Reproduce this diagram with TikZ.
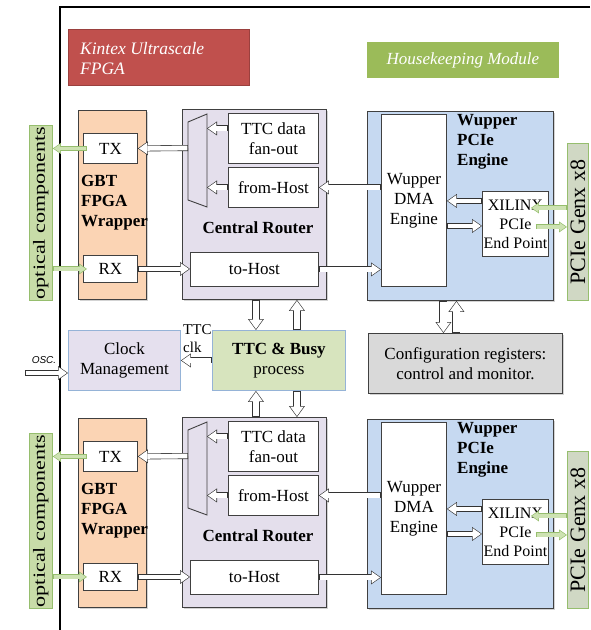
\documentclass[tikz,border=0pt]{standalone}
\usepackage{fontspec}
\setmainfont{Liberation Serif}
\setsansfont{Liberation Sans}
\usepackage{graphicx}
\usetikzlibrary{arrows.meta,shadows}
\definecolor{kintexred}{RGB}{192,80,77}
\definecolor{hkgreen}{RGB}{155,187,89}
\definecolor{gbtpeach}{RGB}{251,212,180}
\definecolor{routerlav}{RGB}{228,223,236}
\definecolor{wupblue}{RGB}{198,217,241}
\definecolor{optgreen}{RGB}{150,190,110}
\definecolor{optlight}{RGB}{205,226,178}
\definecolor{optfill}{RGB}{200,220,168}
\definecolor{pciefill}{RGB}{208,216,196}
\definecolor{clkfill}{RGB}{229,224,238}
\definecolor{clkborder}{RGB}{149,179,215}
\definecolor{ttcgreen}{RGB}{215,228,190}
\definecolor{cfggrey}{RGB}{217,217,217}
\newcommand\boxfont{\fontsize{17}{20}\selectfont}

\begin{document}
\begin{tikzpicture}[x=1pt,y=-1pt,font=\boxfont,
 blk/.style={draw=black!75,line width=0.9pt,anchor=north west,inner sep=0pt},
 whitebox/.style={blk,fill=white,align=center},
 bigbox/.style={blk,drop shadow={shadow xshift=1.5pt,shadow yshift=-1.5pt,opacity=0.35}},
 sidebox/.style={blk,draw=optgreen,fill=optfill,line width=0.8pt},
 boldtext/.style={font=\boxfont\bfseries,align=left,inner sep=0pt},
 hollow/.style={draw=black!80,line width=6pt,-{Triangle[length=10pt,width=14pt,line width=0pt]},
   postaction={draw=white,line width=4.8pt,shorten <=0.6pt,shorten >=1.05pt,-{Triangle[length=8.35pt,width=11.7pt,line width=0pt]}}},
 vhollow/.style={draw=black!80,line width=8pt,-{Triangle[length=11pt,width=16pt,line width=0pt]},
   postaction={draw=white,line width=6.8pt,shorten <=0.6pt,shorten >=1.02pt,-{Triangle[length=9.4pt,width=13.6pt,line width=0pt]}}},
 optarrow/.style={draw=optgreen,line width=5pt,-{Triangle[length=8pt,width=11pt,line width=0pt]},
   postaction={draw=optlight,line width=3.6pt,shorten <=0.7pt,shorten >=1.2pt,-{Triangle[length=6.2pt,width=8.5pt,line width=0pt]}}}]
\useasboundingbox (0,0) rectangle (590,630);
\draw[line width=2.5pt] (590,7) -- (60,7) -- (60,630);
\node[blk,fill=kintexred,draw=kintexred!80!black,minimum width=181pt,minimum height=56pt] (kintex) at (68,29) {};
\node[anchor=west,align=left,text=white,font=\fontsize{17.5}{20}\selectfont\itshape,inner sep=0pt] (kintexlabel) at (80,59) {Kintex Ultrascale\\FPGA};
\node[blk,fill=hkgreen,draw=hkgreen,text=white,font=\fontsize{17}{20}\selectfont\itshape,minimum width=191pt,minimum height=35pt] (hk) at (367,42) {Housekeeping Module};
% upper link
\begin{scope}
\node[sidebox,minimum width=23pt,minimum height=175pt] (optA) at (29,125) {}; \node[rotate=90] (opttextA) at (optA.center) {\scalebox{1.3}[1]{optical components}};
\node[bigbox,fill=gbtpeach,minimum width=68pt,minimum height=189pt] (gbtA) at (78,110) {}; \node[whitebox,minimum width=54pt,minimum height=30pt] (txA) at (83,133) {TX}; \node[whitebox,minimum width=54pt,minimum height=27pt] (rxA) at (83,255) {RX}; \node[boldtext,anchor=west] (gbtlabelA) at (81,203) {GBT\\FPGA\\Wrapper};
\node[bigbox,fill=routerlav,minimum width=144pt,minimum height=190pt] (routerA) at (182,109) {}; \node[whitebox,minimum width=90pt,minimum height=50pt] (fanA) at (228,113) {TTC data\\fan-out}; \node[whitebox,minimum width=90pt,minimum height=40pt] (fromA) at (228,167) {from-Host}; \node[whitebox,minimum width=128pt,minimum height=34pt] (tohostA) at (190,252) {to-Host}; \node[boldtext] (routerlabelA) at (258,228) {Central Router};
\draw[line width=0.9pt,draw=black!75] (188,122) -- (207,114) -- (207,207) -- (188,200) -- cycle; \coordinate (muxA) at (207,160); \coordinate (muxoutA) at (188,148);
\node[bigbox,fill=wupblue,minimum width=186pt,minimum height=189pt] (wupA) at (367,111) {}; \node[whitebox,minimum width=65pt,minimum height=172pt] (dmaA) at (381,114) {Wupper\\DMA\\Engine}; \node[whitebox,font=\fontsize{16}{19}\selectfont,minimum width=66pt,minimum height=65pt] (xilA) at (482,191) {XILINX\\PCIe\\End Point}; \node[boldtext,anchor=west] (wuplabelA) at (457,142) {Wupper\\PCIe\\Engine};
\node[sidebox,fill=pciefill,minimum width=21pt,minimum height=157pt] (pcieA) at (567,143) {}; \node[rotate=90,font=\fontsize{22}{26}\selectfont] (pcietextA) at (pcieA.center) {PCIe Genx x8};
\draw[optarrow] ([xshift=4pt]txA.west) -- (txA.west -| optA.east); \draw[optarrow] (rxA.west -| optA.east) -- ([xshift=4pt]rxA.west);
\draw[hollow] (muxoutA) -- (txA.east); \draw[hollow] ([yshift=10pt]fanA.west) -- ([yshift=10pt]fanA.west -| muxA); \draw[hollow] (fromA.west) -- (fromA.west -| muxA);
\draw[hollow] (rxA.east) -- (rxA.east -| tohostA.west); \draw[hollow] (fromA.east -| dmaA.west) -- (fromA.east); \draw[hollow] (tohostA.east) -- (tohostA.east -| dmaA.west);
\draw[hollow] ([yshift=23pt]xilA.west) -- ([yshift=23pt]xilA.west -| dmaA.east); \draw[hollow] ([yshift=-2pt]xilA.west -| dmaA.east) -- ([yshift=-2pt]xilA.west);
\draw[optarrow] ([yshift=16pt]xilA.east -| pcieA.west) -- ([xshift=-18pt,yshift=16pt]xilA.east); \draw[optarrow] ([xshift=-13pt,yshift=-3pt]xilA.east) -- ([yshift=-3pt]xilA.east -| pcieA.west);
\end{scope}
% lower link
\begin{scope}[shift={(0,308)}]
\node[sidebox,minimum width=23pt,minimum height=175pt] (optB) at (29,125) {}; \node[rotate=90] (opttextB) at (optB.center) {\scalebox{1.3}[1]{optical components}};
\node[bigbox,fill=gbtpeach,minimum width=68pt,minimum height=189pt] (gbtB) at (78,110) {}; \node[whitebox,minimum width=54pt,minimum height=30pt] (txB) at (83,133) {TX}; \node[whitebox,minimum width=54pt,minimum height=27pt] (rxB) at (83,255) {RX}; \node[boldtext,anchor=west] (gbtlabelB) at (81,203) {GBT\\FPGA\\Wrapper};
\node[bigbox,fill=routerlav,minimum width=144pt,minimum height=190pt] (routerB) at (182,109) {}; \node[whitebox,minimum width=90pt,minimum height=50pt] (fanB) at (228,113) {TTC data\\fan-out}; \node[whitebox,minimum width=90pt,minimum height=40pt] (fromB) at (228,167) {from-Host}; \node[whitebox,minimum width=128pt,minimum height=34pt] (tohostB) at (190,252) {to-Host}; \node[boldtext] (routerlabelB) at (258,228) {Central Router};
\draw[line width=0.9pt,draw=black!75] (188,122) -- (207,114) -- (207,207) -- (188,200) -- cycle; \coordinate (muxB) at (207,160); \coordinate (muxoutB) at (188,148);
\node[bigbox,fill=wupblue,minimum width=186pt,minimum height=189pt] (wupB) at (367,111) {}; \node[whitebox,minimum width=65pt,minimum height=172pt] (dmaB) at (381,114) {Wupper\\DMA\\Engine}; \node[whitebox,font=\fontsize{16}{19}\selectfont,minimum width=66pt,minimum height=65pt] (xilB) at (482,191) {XILINX\\PCIe\\End Point}; \node[boldtext,anchor=west] (wuplabelB) at (457,142) {Wupper\\PCIe\\Engine};
\node[sidebox,fill=pciefill,minimum width=21pt,minimum height=157pt] (pcieB) at (567,143) {}; \node[rotate=90,font=\fontsize{22}{26}\selectfont] (pcietextB) at (pcieB.center) {PCIe Genx x8};
\draw[optarrow] ([xshift=4pt]txB.west) -- (txB.west -| optB.east); \draw[optarrow] (rxB.west -| optB.east) -- ([xshift=4pt]rxB.west);
\draw[hollow] (muxoutB) -- (txB.east); \draw[hollow] ([yshift=10pt]fanB.west) -- ([yshift=10pt]fanB.west -| muxB); \draw[hollow] (fromB.west) -- (fromB.west -| muxB);
\draw[hollow] (rxB.east) -- (rxB.east -| tohostB.west); \draw[hollow] (fromB.east -| dmaB.west) -- (fromB.east); \draw[hollow] (tohostB.east) -- (tohostB.east -| dmaB.west);
\draw[hollow] ([yshift=23pt]xilB.west) -- ([yshift=23pt]xilB.west -| dmaB.east); \draw[hollow] ([yshift=-2pt]xilB.west -| dmaB.east) -- ([yshift=-2pt]xilB.west);
\draw[optarrow] ([yshift=16pt]xilB.east -| pcieB.west) -- ([xshift=-18pt,yshift=16pt]xilB.east); \draw[optarrow] ([xshift=-13pt,yshift=-3pt]xilB.east) -- ([yshift=-3pt]xilB.east -| pcieB.west);
\end{scope}
% clock, TTC and registers
\node[blk,draw=clkborder,fill=clkfill,align=center,minimum width=112pt,minimum height=60pt] (clk) at (68,330) {Clock\\Management};
\node[blk,draw=clkborder,fill=ttcgreen,align=center,minimum width=133pt,minimum height=60pt] (ttc) at (212,330) {\textbf{TTC \& Busy}\\process};
\node[anchor=north west,align=left,inner sep=0pt,font=\fontsize{15}{18}\selectfont] (ttcclk) at (183,324) {TTC\\clk};
\node[bigbox,fill=cfggrey,align=center,minimum width=194pt,minimum height=60pt] (cfg) at (368,333) {Configuration registers:\\control and monitor.};
\coordinate (osc) at (25,373); \node[font=\sffamily\itshape\fontsize{10}{11}\selectfont] (osclabel) at (44,360) {OSC.};
\draw[hollow] (osc) -- (osc -| clk.west); \draw[hollow] (ttc.west) -- (ttc.west -| clk.east);
\draw[vhollow] ([xshift=-23pt]ttc.north |- routerA.south) -- ([xshift=-23pt]ttc.north); \draw[vhollow] ([xshift=18pt]ttc.north) -- ([xshift=18pt]ttc.north |- routerA.south);
\draw[vhollow] ([xshift=-23pt]ttc.south |- routerB.north) -- ([xshift=-23pt]ttc.south); \draw[vhollow] ([xshift=18pt]ttc.south) -- ([xshift=18pt]ttc.south |- routerB.north);
\draw[vhollow] ([xshift=-22pt]cfg.north |- wupA.south) -- ([xshift=-22pt]cfg.north); \draw[vhollow] ([xshift=-9pt]cfg.north) -- ([xshift=-9pt]cfg.north |- wupA.south);
\end{tikzpicture}
\end{document}
